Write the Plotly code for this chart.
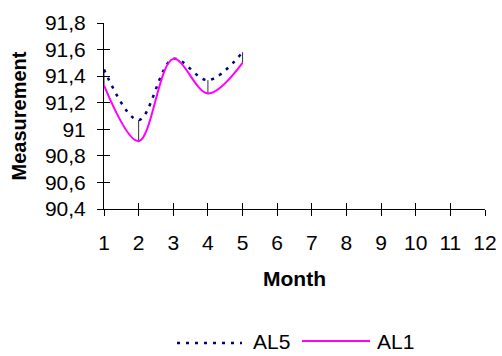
import plotly.graph_objects as go

# Monthly measurements for the two lines
months = [1, 2, 3, 4, 5]
al5 = [91.45, 91.07, 91.53, 91.37, 91.58]
al1 = [91.33, 90.91, 91.53, 91.27, 91.50]

series_names = ["AL5", "AL1"]
series_colors = ["#000080", "#FF00FF"]
series_dashes = ["3px,6px", "solid"]

# Axis ticks
x_ticks = list(range(1, 13))
y_ticks = [90.4, 90.6, 90.8, 91.0, 91.2, 91.4, 91.6, 91.8]
y_tick_text = ["90,4", "90,6", "90,8", "91", "91,2", "91,4", "91,6", "91,8"]

FONT = "Liberation Sans, Arial, sans-serif"
FS = 21

W, H = 502, 356
L, R, T, B = 104, 17, 23, 147
PW, PH = W - L - R, H - T - B


def px_to_paper(px, py):
    return (px - L) / PW, (H - B - py) / PH


# High-low connectors between the two series at each month
hl_x, hl_y = [], []
for m, a, b in zip(months, al5, al1):
    hl_x += [m, m, None]
    hl_y += [a, b, None]

fig = go.Figure()
fig.add_trace(go.Scatter(
    x=hl_x, y=hl_y, mode="lines", line=dict(color="#333333", width=1),
    showlegend=False, hoverinfo="skip"))
for name, vals, col, dash, w in zip(series_names, [al5, al1], series_colors,
                                    series_dashes, [2.5, 2]):
    fig.add_trace(go.Scatter(
        x=months, y=vals, name=name, mode="lines", showlegend=False,
        line=dict(color=col, width=w, dash=dash, shape="spline", smoothing=1)))

# carrier for the inner tick marks
fig.add_trace(go.Scatter(x=[None], y=[None], xaxis="x2", yaxis="y2",
                         showlegend=False, hoverinfo="skip"))

# Legend below the plot: long sample lines followed by the series names
legend_items = [(177, 242, 251, 343), (302, 370, 375, 341)]
for (x0, x1, xt, yl), name, col, dash, w in zip(legend_items, series_names,
                                                series_colors, series_dashes,
                                                [2.5, 2]):
    ax0, ay = px_to_paper(x0, yl)
    ax1, _ = px_to_paper(x1, yl)
    fig.add_shape(type="line", xref="paper", yref="paper", x0=ax0, x1=ax1,
                  y0=ay, y1=ay, line=dict(color=col, width=w, dash=dash))
    tx, ty = px_to_paper(xt, 341)
    fig.add_annotation(xref="paper", yref="paper", x=tx, y=ty, text=name,
                       showarrow=False, xanchor="left", yanchor="middle",
                       font=dict(family=FONT, size=FS, color="black"))

axis_common = dict(showgrid=False, zeroline=False, linecolor="black", linewidth=1,
                   tickcolor="black", tickwidth=1, ticklen=6, automargin=False)

fig.update_layout(
    width=W, height=H,
    margin=dict(l=L, r=R, t=T, b=B),
    paper_bgcolor="white", plot_bgcolor="white",
    font=dict(family=FONT, size=FS, color="black"),
    showlegend=False,
    xaxis=dict(range=[1, 12], tickvals=x_ticks, ticks="outside", showline=True,
               ticklabelstandoff=9,
               title=dict(text="<b>Month</b>", font=dict(size=FS), standoff=18),
               **axis_common),
    yaxis=dict(range=[90.4, 91.8], tickvals=y_ticks, ticktext=y_tick_text,
               ticks="outside", showline=True, ticklabelstandoff=7,
               title=dict(text="<b>Measurement</b>", font=dict(size=20), standoff=12),
               **axis_common),
    xaxis2=dict(range=[1, 12], tickvals=x_ticks, ticks="inside", overlaying="x",
                anchor="y2", side="bottom", showticklabels=False, showline=False,
                showgrid=False, zeroline=False, tickcolor="black", ticklen=6),
    yaxis2=dict(range=[90.4, 91.8], tickvals=y_ticks, ticks="inside", overlaying="y",
                anchor="x2", side="left", showticklabels=False, showline=False,
                showgrid=False, zeroline=False, tickcolor="black", ticklen=6),
)

fig.write_html("out.html")
